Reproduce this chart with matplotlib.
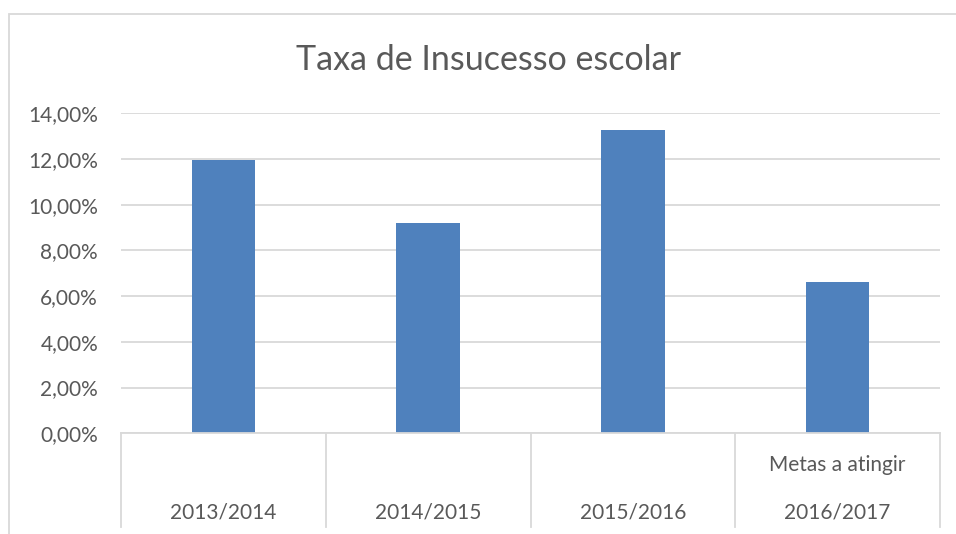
import matplotlib.pyplot as plt
from matplotlib.patches import Rectangle
from matplotlib.ticker import FuncFormatter

years = ["2013/2014", "2014/2015", "2015/2016", "2016/2017"]
groups = ["", "", "", "Metas a atingir"]
rates = [11.97, 9.19, 13.27, 6.61]
yticks = [0, 2, 4, 6, 8, 10, 12, 14]

grid_c = "#d9d9d9"
text_c = "#595959"
bar_c = "#4f81bd"
font = "Lato"

fig = plt.figure(figsize=(9.56, 5.34), dpi=100)
W, H = 956, 534

# outer chart frame (cut off on the right and bottom)
fig.patches.append(Rectangle((9 / W, -0.1), 1.2, (H - 14) / H + 0.1,
                             transform=fig.transFigure, fill=False,
                             edgecolor=grid_c, lw=1.3))

ax = fig.add_axes([121 / W, (H - 433.3) / H, (940 - 121) / W, 320 / H])
x = range(len(years))
ax.bar(x, rates, width=0.31, color=bar_c, zorder=2)

ax.set_xlim(-0.5, len(years) - 0.5)
ax.set_ylim(0, 14)
ax.set_yticks(yticks)
ax.yaxis.set_major_formatter(FuncFormatter(lambda v, p: f"{v:.2f}%".replace(".", ",")))
ax.grid(axis="y", color=grid_c, lw=1.3, zorder=0)
ax.tick_params(axis="y", length=0, pad=16.5, labelsize=15, labelcolor=text_c)
for lbl in ax.get_yticklabels():
    lbl.set_fontfamily(font)
ax.set_xticks([])
for s in ["left", "right", "top"]:
    ax.spines[s].set_visible(False)
ax.spines["bottom"].set_color(grid_c)
ax.spines["bottom"].set_linewidth(1.3)

# multi-level category axis
tr = ax.get_xaxis_transform()
for i in range(len(years) + 1):
    ax.plot([i - 0.5, i - 0.5], [0, -0.293], transform=tr, color=grid_c,
            lw=1.3, clip_on=False)
for i, (yr, g) in enumerate(zip(years, groups)):
    ax.text(i, -0.246, yr, transform=tr, ha="center", va="center",
            fontsize=15, color=text_c, family=font)
    if g:
        ax.text(i, -0.099, g, transform=tr, ha="center", va="center",
                fontsize=15, color=text_c, family=font)

fig.text(489 / W, 1 - 60 / H, "Taxa de Insucesso escolar", ha="center",
         va="center", fontsize=24.5, color=text_c, family=font)

fig.savefig("out.png", dpi=100)
